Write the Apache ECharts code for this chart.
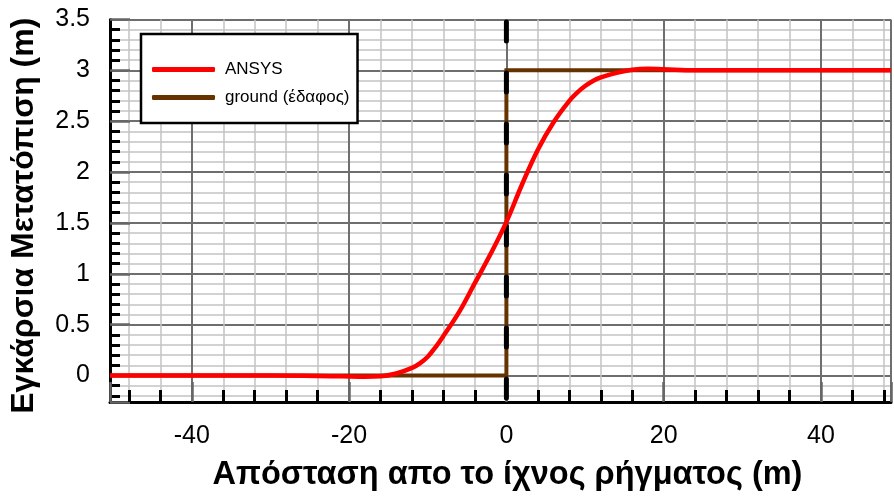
<!DOCTYPE html>
<html>
<head>
<meta charset="utf-8">
<script src="https://cdn.jsdelivr.net/npm/echarts@6/dist/echarts.min.js"></script>
<style>
html,body{margin:0;padding:0;background:#fff;}
#chart{width:894px;height:497px;}
</style>
</head>
<body>
<div id="chart"></div>
<script>
// Axis ranges
const xMin = -50.4, xMax = 48.9;
const yMin = -0.26, yMax = 3.5;

// ANSYS curve
const ansysX = [-50.4, -30, -21, -18, -16, -14, -12, -11, -10, -9, -8, -6, -4, -2, 0, 2, 4, 6, 8, 9, 10, 11, 12, 14, 16, 18, 20, 24, 30, 48.9];
const ansysY = [0, 0, -0.008, -0.012, -0.008, 0.02, 0.075, 0.12, 0.185, 0.28, 0.39, 0.625, 0.91, 1.196, 1.51, 1.88, 2.22, 2.49, 2.70, 2.78, 2.845, 2.895, 2.93, 2.975, 3.005, 3.015, 3.01, 3.0, 3.0, 3.0];

// Ground step
const groundX = [-50.4, 0, 0, 48.9];
const groundY = [0, 0, 3, 3];

// Fault trace (vertical dashed line)
const faultX = [0, 0];
const faultY = [3.5, -0.26];

const seriesNames = ['ANSYS', 'ground (έδαφος)'];
const xAxisName = 'Απόσταση απο το ίχνος ρήγματος (m)';
const yAxisName = 'Εγκάρσια Μετατόπιση (m)';

const zip = (a, b) => a.map((v, i) => [v, b[i]]);
const FONT = 'Liberation Sans, Arial, sans-serif';

const chart = echarts.init(document.getElementById('chart'), null, {renderer: 'canvas'});

const isMult = (v, m) => Math.abs(v / m - Math.round(v / m)) < 1e-6;

const option = {
  animation: false,
  backgroundColor: '#fff',
  grid: {left: 109.5, right: 0, top: 19.4, bottom: 93.2, containLabel: false},
  legend: {
    data: [
      {name: seriesNames[0], icon: 'roundRect', itemStyle: {color: '#ff0000'}},
      {name: seriesNames[1], icon: 'roundRect', itemStyle: {color: '#663300'}}
    ],
    orient: 'vertical',
    left: 141, top: 34,
    padding: [27, 8, 17, 11],
    itemGap: 11,
    itemWidth: 63,
    itemHeight: 5,
    backgroundColor: '#fff',
    borderColor: '#000',
    borderWidth: 2.5,
    borderRadius: 0,
    textStyle: {fontFamily: FONT, fontSize: 17, color: '#000', padding: [0, 0, 0, 5], lineHeight: 17}
  },
  xAxis: {
    type: 'value', min: xMin, max: xMax, splitNumber: 5, minInterval: 20, maxInterval: 20,
    position: 'bottom',
    name: xAxisName, nameLocation: 'middle', nameGap: 57,
    nameTextStyle: {fontFamily: FONT, fontSize: 32.5, fontWeight: 'bold', color: '#000', padding: [0, 0, 0, 14]},
    axisLine: {show: true, onZero: false, lineStyle: {color: '#000', width: 3}},
    axisTick: {show: true, inside: true, length: 20, lineStyle: {color: '#666', width: 2.5}},
    minorTick: {show: true, splitNumber: 5, length: 12, lineStyle: {color: '#000', width: 3}},
    axisLabel: {
      show: true, margin: 22, fontFamily: FONT, fontSize: 25, color: '#000',
      formatter: v => isMult(v, 20) ? String(Math.round(v)) : ''
    },
    splitLine: {show: true, lineStyle: {color: '#6e6e6e', width: 2}},
    minorSplitLine: {show: true, lineStyle: {color: '#c4c4c4', width: 1.5}}
  },
  yAxis: {
    type: 'value', min: yMin, max: yMax, splitNumber: 8, minInterval: 0.5, maxInterval: 0.5,
    position: 'left',
    name: yAxisName, nameLocation: 'middle', nameGap: 70, nameRotate: 90,
    nameTextStyle: {fontFamily: FONT, fontSize: 32, fontWeight: 'bold', color: '#000', padding: [0, 10, 0, 0]},
    axisLine: {show: true, onZero: false, lineStyle: {color: '#000', width: 3}},
    axisTick: {show: true, inside: true, length: 20, lineStyle: {color: '#666', width: 2.5}},
    minorTick: {show: true, splitNumber: 5, length: 10, lineStyle: {color: '#000', width: 3}},
    axisLabel: {
      show: true, margin: 20, fontFamily: FONT, fontSize: 25, color: '#000',
      formatter: v => isMult(v, 0.5) ? String(Math.round(v * 10) / 10) : ''
    },
    splitLine: {show: true, lineStyle: {color: '#6e6e6e', width: 2}},
    minorSplitLine: {show: true, lineStyle: {color: '#c4c4c4', width: 1.5}}
  },
  series: [
    {
      name: seriesNames[1], type: 'line',
      data: zip(groundX, groundY), symbol: 'none', smooth: false,
      lineStyle: {color: '#663300', width: 4, join: 'miter'},
      itemStyle: {color: '#663300'}
    },
    {
      name: 'fault', type: 'line',
      data: zip(faultX, faultY), symbol: 'none',
      lineStyle: {color: '#000', width: 5, type: [19, 32], dashOffset: -2.5, cap: 'round'}
    },
    {
      name: seriesNames[0], type: 'line',
      data: zip(ansysX, ansysY), symbol: 'none', smooth: 0.4,
      lineStyle: {color: '#ff0000', width: 4.5},
      itemStyle: {color: '#ff0000'}
    }
  ]
};
chart.setOption(option);
</script>
</body>
</html>
